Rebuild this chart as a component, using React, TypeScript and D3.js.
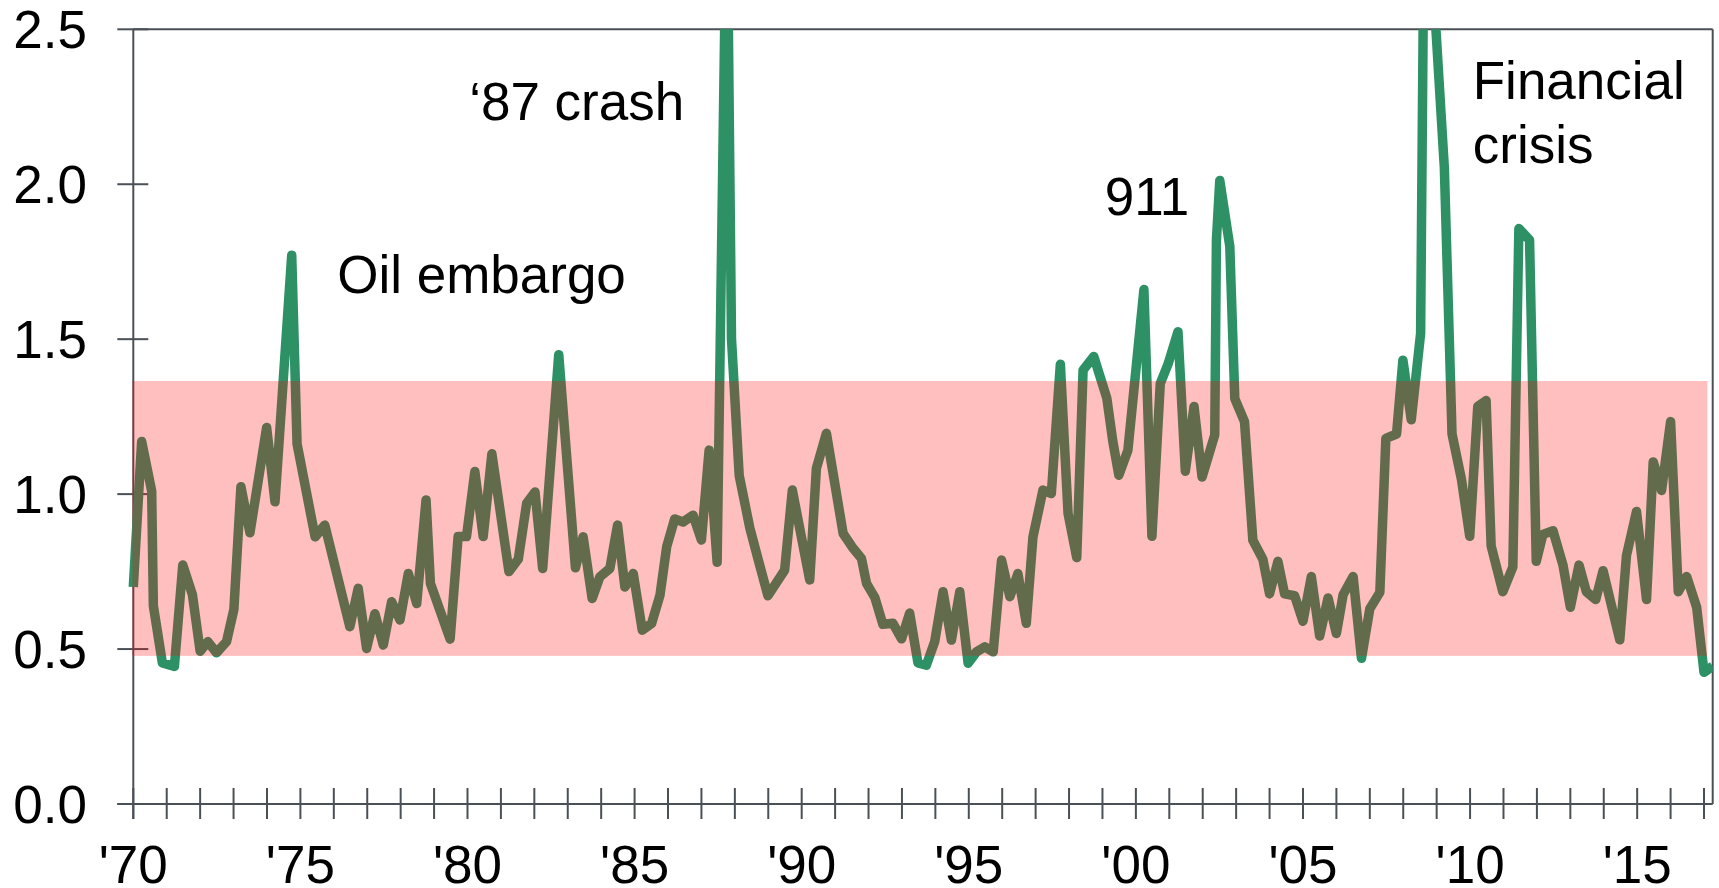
import React, { useEffect, useRef } from "react";
import * as d3 from "d3";

// quarterly-ish readings of the ratio, as decimal years
const years = [
  1970.0, 1970.25, 1970.55, 1970.6, 1970.87, 1971.23, 1971.48, 1971.77, 1972.0, 1972.23,
  1972.49, 1972.79, 1973.01, 1973.22, 1973.49, 1973.99, 1974.24, 1974.74, 1974.9, 1975.44,
  1975.73, 1976.48, 1976.73, 1976.98, 1977.23, 1977.48, 1977.73, 1977.98, 1978.23, 1978.48,
  1978.76, 1978.89, 1979.48, 1979.72, 1979.97, 1980.22, 1980.47, 1980.73, 1981.24, 1981.52,
  1981.77, 1982.02, 1982.25, 1982.73, 1982.99, 1983.23, 1983.46, 1983.73, 1983.96, 1984.26,
  1984.49, 1984.71, 1984.96, 1985.23, 1985.51, 1985.76, 1985.96, 1986.2, 1986.45, 1986.75,
  1987.0, 1987.23, 1987.47, 1987.76, 1987.9, 1988.13, 1988.45, 1988.72, 1988.99, 1989.49,
  1989.72, 1990.24, 1990.44, 1990.74, 1991.24, 1991.54, 1991.79, 1991.94, 1992.19, 1992.43,
  1992.73, 1992.99, 1993.23, 1993.48, 1993.73, 1993.98, 1994.23, 1994.48, 1994.73, 1994.98,
  1995.23, 1995.48, 1995.73, 1995.98, 1996.23, 1996.47, 1996.72, 1996.92, 1997.22, 1997.47,
  1997.74, 1997.97, 1998.23, 1998.42, 1998.74, 1999.13, 1999.31, 1999.49, 1999.76, 2000.24,
  2000.48, 2000.73, 2000.96, 2001.26, 2001.48, 2001.74, 2001.98, 2002.36, 2002.41, 2002.51,
  2002.81, 2002.96, 2003.25, 2003.5, 2003.8, 2004.0, 2004.25, 2004.45, 2004.75, 2005.0,
  2005.25, 2005.5, 2005.75, 2006.0, 2006.2, 2006.5, 2006.75, 2007.0, 2007.3, 2007.48,
  2007.8, 2007.99, 2008.24, 2008.52, 2008.64, 2009.23, 2009.46, 2009.74, 2009.99, 2010.23,
  2010.48, 2010.63, 2010.98, 2011.28, 2011.46, 2011.78, 2011.98, 2012.18, 2012.48, 2012.78,
  2013.0, 2013.26, 2013.48, 2013.76, 2013.98, 2014.23, 2014.48, 2014.68, 2014.98, 2015.28,
  2015.48, 2015.73, 2016.0, 2016.23, 2016.48, 2016.78, 2017.0, 2017.26,
];

const values = [
  0.7, 1.17, 1.01, 0.64, 0.455, 0.444, 0.771, 0.675, 0.493, 0.524,
  0.488, 0.524, 0.628, 1.024, 0.875, 1.215, 0.975, 1.771, 1.162, 0.862,
  0.9, 0.572, 0.696, 0.502, 0.614, 0.513, 0.653, 0.594, 0.744, 0.647,
  0.981, 0.712, 0.532, 0.863, 0.863, 1.073, 0.863, 1.13, 0.75, 0.79,
  0.97, 1.007, 0.76, 1.45, 1.09, 0.762, 0.862, 0.663, 0.733, 0.76,
  0.9, 0.7, 0.744, 0.561, 0.583, 0.674, 0.83, 0.92, 0.91, 0.932,
  0.852, 1.142, 0.78, 3.0, 1.5, 1.06, 0.89, 0.78, 0.672, 0.755,
  1.013, 0.723, 1.083, 1.196, 0.873, 0.825, 0.792, 0.712, 0.666, 0.58,
  0.583, 0.533, 0.616, 0.455, 0.448, 0.524, 0.685, 0.529, 0.685, 0.454,
  0.491, 0.507, 0.491, 0.787, 0.669, 0.744, 0.583, 0.862, 1.013, 1.002,
  1.419, 0.938, 0.795, 1.4, 1.444, 1.31, 1.17, 1.061, 1.141, 1.66,
  0.864, 1.357, 1.419, 1.524, 1.074, 1.283, 1.055, 1.191, 1.82, 2.012,
  1.8, 1.308, 1.234, 0.851, 0.79, 0.678, 0.783, 0.678, 0.672, 0.59,
  0.734, 0.542, 0.665, 0.55, 0.675, 0.734, 0.47, 0.63, 0.683, 1.18,
  1.194, 1.432, 1.24, 1.518, 3.1, 2.053, 1.194, 1.049, 0.864, 1.283,
  1.302, 0.833, 0.685, 0.765, 1.857, 1.82, 0.783, 0.87, 0.882, 0.771,
  0.635, 0.771, 0.685, 0.66, 0.753, 0.641, 0.53, 0.802, 0.944, 0.66,
  1.104, 1.012, 1.234, 0.685, 0.734, 0.635, 0.425, 0.445,
];

// shaded "normal" range
const bandRange = [0.478, 1.365];
const bandEndYear = 2017.1;

const yTicks = [0, 0.5, 1.0, 1.5, 2.0, 2.5];
const xLabelYears = [1970, 1975, 1980, 1985, 1990, 1995, 2000, 2005, 2010, 2015];
const xLabels = ["'70", "'75", "'80", "'85", "'90", "'95", "'00", "'05", "'10", "'15"];

const eventLabels = [["Oil embargo"], ["\u201887 crash"], ["911"], ["Financial", "crisis"]];
// anchor of each label's first baseline, in data units [year, value]
const eventAnchors = [
  [1976.1, 1.648],
  [1980.05, 2.206],
  [1999.07, 1.9],
  [2010.08, 2.274],
];

const W = 1719;
const H = 888;

const App = () => {
  const svgRef = useRef(null);

  useEffect(() => {
    if (!svgRef.current) return;
    d3.select(svgRef.current).selectAll("*").remove();

    const svg = d3.select(svgRef.current);

    const left = 133.3;
    const right = 1712.7;
    const top = 29.3;
    const bottom = 804;

    const x = d3.scaleLinear().domain([1970, 2017.26]).range([left, right]);
    const y = d3.scaleLinear().domain([0, 2.5]).range([bottom, top]);

    const axisColor = "#4b5056";
    const font = "'Liberation Sans', Arial, sans-serif";
    const fontSize = 53;

    svg.append("rect").attr("width", W).attr("height", H).attr("fill", "#fff");

    // clip for the series
    svg
      .append("defs")
      .append("clipPath")
      .attr("id", "plotClip")
      .append("rect")
      .attr("x", left - 6)
      .attr("y", top)
      .attr("width", right - left + 6)
      .attr("height", H - top);

    // frame
    const axes = svg.append("g").attr("stroke", axisColor).attr("stroke-width", 2);
    axes.append("line").attr("x1", left).attr("x2", left).attr("y1", top).attr("y2", bottom + 15);
    axes.append("line").attr("x1", left).attr("x2", right).attr("y1", top).attr("y2", top);
    axes.append("line").attr("x1", right).attr("x2", right).attr("y1", top).attr("y2", bottom);
    axes.append("line").attr("x1", left - 16).attr("x2", right).attr("y1", bottom).attr("y2", bottom);

    // y ticks
    yTicks.forEach((t) => {
      axes
        .append("line")
        .attr("x1", left - 16)
        .attr("x2", left + 15)
        .attr("y1", y(t))
        .attr("y2", y(t));
    });

    // x ticks, one per year
    d3.range(1970, 2018).forEach((yr) => {
      axes
        .append("line")
        .attr("x1", x(yr))
        .attr("x2", x(yr))
        .attr("y1", bottom - 16)
        .attr("y2", bottom + 15);
    });

    const labels = svg
      .append("g")
      .attr("font-family", font)
      .attr("font-size", fontSize)
      .attr("fill", "#000");

    yTicks.forEach((t) => {
      labels
        .append("text")
        .attr("x", 87)
        .attr("y", y(t) + 18.8)
        .attr("text-anchor", "end")
        .text(t.toFixed(1));
    });

    xLabelYears.forEach((yr, i) => {
      labels
        .append("text")
        .attr("x", x(yr))
        .attr("y", 883)
        .attr("text-anchor", "middle")
        .text(xLabels[i]);
    });

    // series
    const points = years.map((yr, i) => [yr, values[i]]);
    const line = d3
      .line()
      .x((d) => x(d[0]))
      .y((d) => y(d[1]));

    svg
      .append("path")
      .attr("d", line(points))
      .attr("clip-path", "url(#plotClip)")
      .attr("fill", "none")
      .attr("stroke", "#2e9166")
      .attr("stroke-width", 9.5)
      .attr("stroke-linejoin", "round")
      .attr("stroke-linecap", "butt");

    // translucent band over everything
    svg
      .append("rect")
      .attr("x", x(1970) - 1)
      .attr("y", y(bandRange[1]))
      .attr("width", x(bandEndYear) - x(1970) + 1)
      .attr("height", y(bandRange[0]) - y(bandRange[1]))
      .attr("fill", "#ff0000")
      .attr("fill-opacity", 0.25);

    // event labels
    eventLabels.forEach((lines, i) => {
      const [ax, ay] = eventAnchors[i];
      lines.forEach((txt, j) => {
        labels
          .append("text")
          .attr("x", x(ax))
          .attr("y", y(ay) + j * 64)
          .text(txt);
      });
    });
  }, []);

  return (
    <div style={{ position: "absolute", left: 0, top: 0, width: W, height: H }}>
      <svg ref={svgRef} width={W} height={H} />
    </div>
  );
};

export default App;
